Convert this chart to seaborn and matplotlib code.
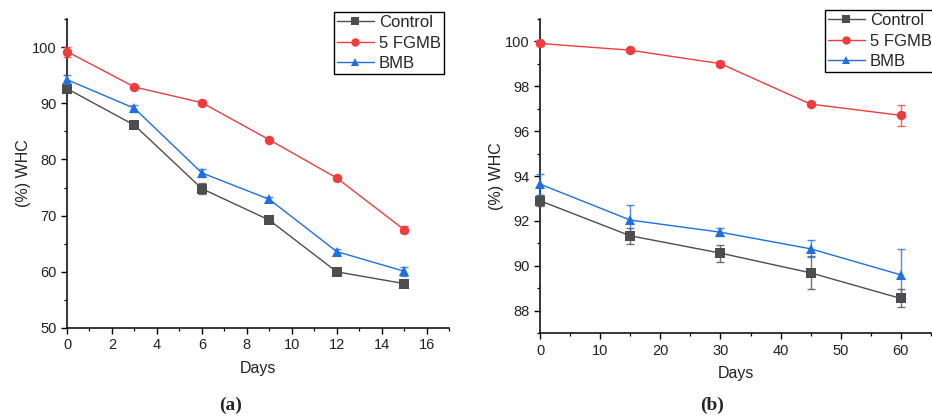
import numpy as np
import pandas as pd
import matplotlib
matplotlib.use("Agg")
import matplotlib.pyplot as plt
from matplotlib.ticker import MultipleLocator
import seaborn as sns

sns.set_theme(style="white")
plt.rcParams['font.family'] = ['Liberation Sans', 'DejaVu Sans']

series_names = ["Control", "5 FGMB", "BMB"]

# Panel (a)
days_a = [0, 3, 6, 9, 12, 15]
control_a = [92.6, 86.1, 74.8, 69.2, 60.0, 57.9]
control_a_err = [0.4, 0.4, 1.0, 0.4, 0.3, 0.3]
fgmb_a = [99.2, 92.9, 90.1, 83.5, 76.7, 67.5]
fgmb_a_err = [0.9, 0.4, 0.4, 0.3, 0.3, 0.6]
bmb_a = [94.2, 89.1, 77.6, 72.9, 63.6, 60.1]
bmb_a_err = [0.8, 0.6, 0.7, 0.4, 0.4, 0.8]

# Panel (b)
days_b = [0, 15, 30, 45, 60]
control_b = [92.9, 91.34, 90.57, 89.69, 88.55]
control_b_err = [0.25, 0.36, 0.38, 0.74, 0.4]
fgmb_b = [99.9, 99.6, 99.0, 97.2, 96.7]
fgmb_b_err = [0.1, 0.1, 0.1, 0.1, 0.47]
bmb_b = [93.64, 92.04, 91.5, 90.76, 89.6]
bmb_b_err = [0.47, 0.67, 0.17, 0.38, 1.17]

colors = {"Control": "#4d4d4d", "5 FGMB": "#f03c3c", "BMB": "#1f6fe0"}
markers = {"Control": "s", "5 FGMB": "o", "BMB": "^"}


def make_df(days, vals, errs):
    rows = []
    for name, v, e in zip(series_names, vals, errs):
        for d, y, er in zip(days, v, e):
            rows.append({"Days": d, "WHC": y, "err": er, "group": name})
    return pd.DataFrame(rows)


df_a = make_df(days_a, [control_a, fgmb_a, bmb_a], [control_a_err, fgmb_a_err, bmb_a_err])
df_b = make_df(days_b, [control_b, fgmb_b, bmb_b], [control_b_err, fgmb_b_err, bmb_b_err])

fig = plt.figure(figsize=(9.32, 4.19), dpi=100)
ax1 = fig.add_axes([0.0719, 0.2172, 0.41, 0.7375])
ax2 = fig.add_axes([0.5794, 0.2045, 0.4195, 0.7508])


def draw(ax, df, xlim, ylim, xmaj, xmin, ymaj, ymin, leg_anchor, leg_loc):
    for name in series_names:
        sub = df[df.group == name]
        ax.errorbar(sub.Days, sub.WHC, yerr=sub.err, fmt='none',
                    ecolor=colors[name], elinewidth=1.0, capsize=3,
                    capthick=1.0, alpha=0.8, zorder=2, clip_on=False)
    sns.lineplot(data=df, x="Days", y="WHC", hue="group", style="group",
                 palette=colors, markers=markers, dashes=False,
                 markersize=6.8, markeredgewidth=0, linewidth=1.0,
                 hue_order=series_names, style_order=series_names,
                 ax=ax, zorder=3, legend=True, clip_on=False)
    ax.set_xlim(*xlim)
    ax.set_ylim(*ylim)
    ax.xaxis.set_major_locator(MultipleLocator(xmaj))
    ax.xaxis.set_minor_locator(MultipleLocator(xmin))
    ax.yaxis.set_major_locator(MultipleLocator(ymaj))
    ax.yaxis.set_minor_locator(MultipleLocator(ymin))
    for s in ["top", "right"]:
        ax.spines[s].set_visible(False)
    for s in ["left", "bottom"]:
        ax.spines[s].set_color("black")
        ax.spines[s].set_linewidth(1.1)
        ax.spines[s].set_zorder(1)
    ax.tick_params(which="major", direction="out", length=4, width=1.0,
                   color="black", labelsize=10.5, labelcolor="#222222",
                   bottom=True, left=True)
    ax.tick_params(which="minor", direction="out", length=2.5, width=0.9,
                   color="black", bottom=True, left=True)
    ax.set_xlabel("Days", fontsize=11.5, labelpad=6, color="#222222")
    ax.set_ylabel("(%) WHC", fontsize=11.5, labelpad=1, color="#222222")
    ax.set_facecolor("white")
    handles, labels = ax.get_legend_handles_labels()
    leg = ax.legend(handles, labels, loc=leg_loc, bbox_to_anchor=leg_anchor,
                    fontsize=12, frameon=True, fancybox=False, framealpha=1,
                    edgecolor="black", handlelength=2.2, handletextpad=0.3,
                    borderpad=0.2, labelspacing=0.32, borderaxespad=0)
    leg.get_frame().set_linewidth(1.0)
    for h in leg.legend_handles:
        try:
            h.set_markersize(6)
        except Exception:
            pass


draw(ax1, df_a, (0, 17), (50, 105), 2, 1, 10, 5, (0.987, 1.023), "upper right")
draw(ax2, df_b, (0, 65), (87, 101), 10, 5, 2, 1, (0.728, 1.028), "upper left")

fig.text(0.247, 0.033, "(a)", fontsize=14, fontweight="bold",
         family=["Liberation Serif", "DejaVu Serif"], ha="center", va="center")
fig.text(0.764, 0.033, "(b)", fontsize=14, fontweight="bold",
         family=["Liberation Serif", "DejaVu Serif"], ha="center", va="center")

fig.savefig("out.png", dpi=100, facecolor="white")
